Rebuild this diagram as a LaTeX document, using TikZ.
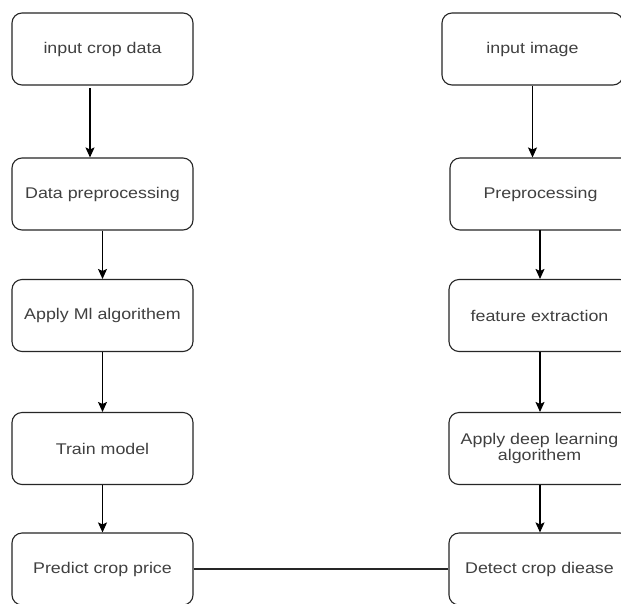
\documentclass[tikz,border=0pt]{standalone}
\usepackage{fontspec}
\usetikzlibrary{arrows.meta}
\newfontfamily\boxfont[FakeStretch=1.15]{Liberation Sans}
\tikzset{
  x=1pt, y=-1pt,
  flowbox/.style={draw=black!85, line width=1.1pt, rounded corners=10pt,
    minimum width=181pt, minimum height=72pt, inner sep=0pt, align=center,
    text=black!75, font=\boxfont\fontsize{15.5}{16}\selectfont},
  arr/.style={draw=black, line width=1.2pt, -{Stealth[length=10pt,width=9pt,inset=2pt]}},
  link/.style={draw=black!85, line width=1.1pt}
}
\begin{document}
\begin{tikzpicture}
\useasboundingbox (0,0) rectangle (621,603);
\fill[white] (0,0) rectangle (621,603);
\clip (0,0) rectangle (621,603);
% left column
\node[flowbox] (L1) at (102.5,49) {input crop data};
\node[flowbox] (L2) at (102.5,194) {Data preprocessing};
\node[flowbox] (L3) at (102.5,315.5) {Apply Ml algorithem};
\node[flowbox] (L4) at (102.5,448.5) {Train model};
\node[flowbox] (L5) at (102.5,569) {Predict crop price};
% right column
\node[flowbox] (R1) at (532.5,49) {input image};
\node[flowbox] (R2) at (540.5,194) {Preprocessing};
\node[flowbox] (R3) at (539.5,315.5) {feature extraction};
\node[flowbox] (R4) at (539.5,448.5) {Apply deep learning\\algorithem};
\node[flowbox] (R5) at (539.5,569) {Detect crop diease};
% left arrows
\coordinate (a1) at (90,88);
\draw[arr] (a1) -- (a1 |- L2.north);
\draw[arr] (L2.south) -- (L3.north);
\draw[arr] (L3.south) -- (L4.north);
\draw[arr] (L4.south) -- (L5.north);
% right arrows
\draw[arr] (R1.south) -- (R1.south |- R2.north);
\coordinate (b2) at (540,230);
\draw[arr] (b2) -- (b2 |- R3.north);
\draw[arr] (R3.south -| b2) -- (R4.north -| b2);
\draw[arr] (R4.south -| b2) -- (R5.north -| b2);
% link
\draw[link] (L5.east) -- (R5.west);
\end{tikzpicture}
\end{document}
